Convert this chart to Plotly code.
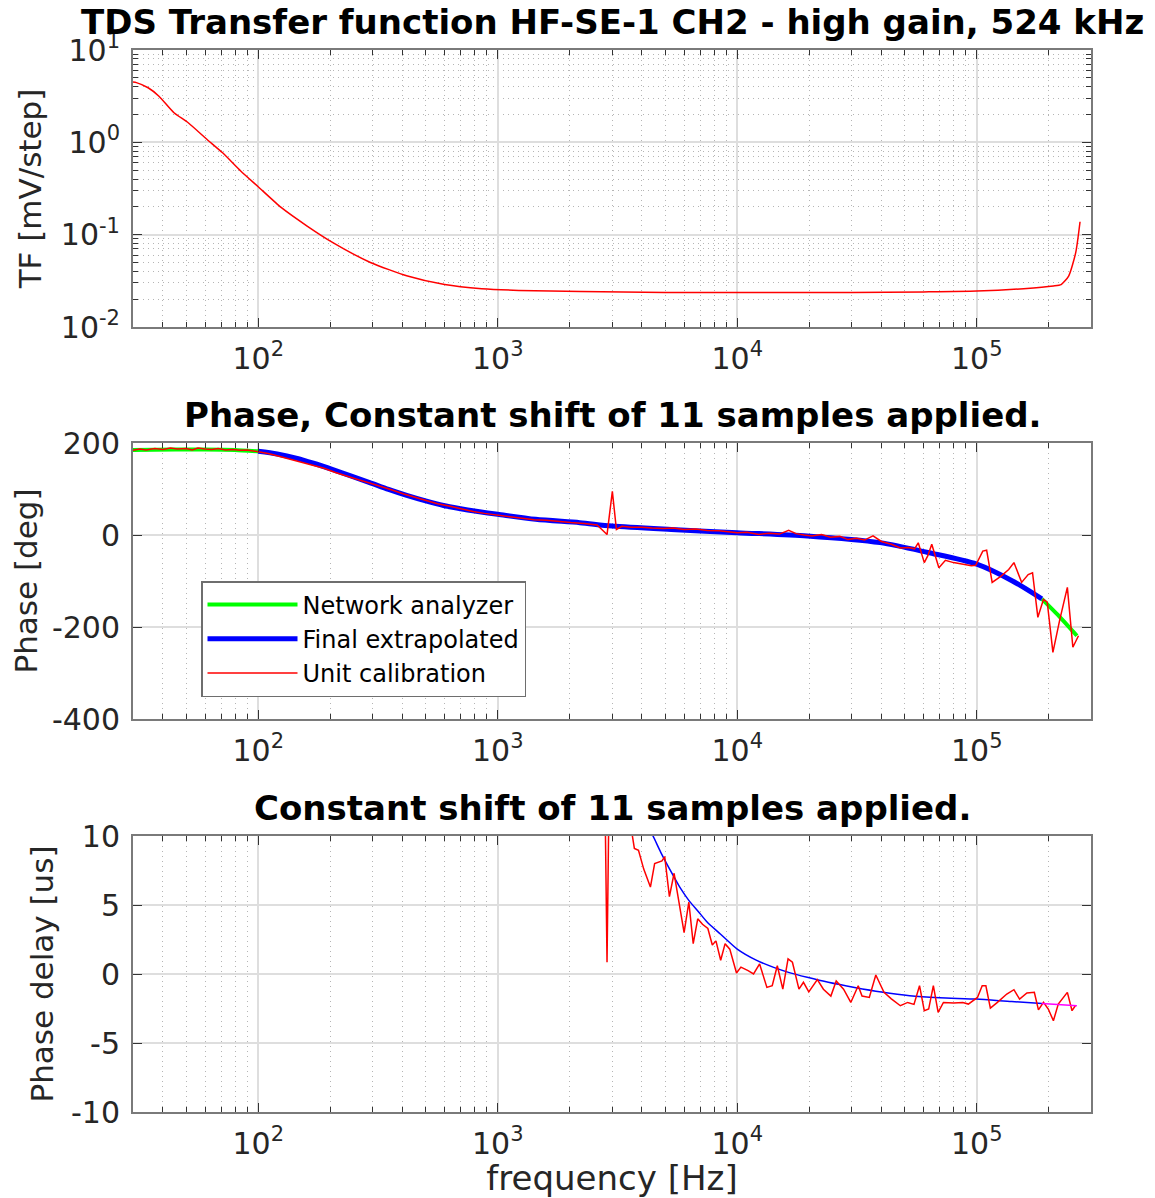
import math

import plotly.graph_objects as go
from plotly.subplots import make_subplots

# --- transfer function magnitude (mV/step) ---
TF_FREQ = [30, 31, 34.7, 38.5, 44.5, 51, 61, 71, 84.5, 100, 125, 160, 205, 294, 420,
           600, 857, 1225, 2220, 5000, 10000, 30000, 60000, 100000, 157000, 209000,
           225000, 242000, 259000, 270000]
TF_MAG = [4.5, 4.43, 3.9, 3.16, 2.09, 1.63, 1.08, 0.77, 0.49, 0.33, 0.196, 0.124, 0.082,
          0.050, 0.0356, 0.0288, 0.026, 0.0249, 0.0242, 0.0236, 0.0236, 0.0236, 0.024,
          0.0245, 0.026, 0.0278, 0.0288, 0.0356, 0.0638, 0.138]

# --- phase (deg) ---
NA_FREQ = [30, 45, 60, 80, 100, None, 187000, 223000, 262000]
NA_PHASE = [185, 186, 186, 185, 182, None, -139, -179, -219]

FINAL_FREQ = [100, 120, 144, 170, 205, 245, 292, 350, 417, 500, 594, 700, 800, 1000,
              1440, 2200, 3000, 5300, 10000, 19600, 39500, 62500, 100000, 141000, 187000]
FINAL_PHASE = [182, 176, 167, 156, 142, 128, 114, 99, 86, 74, 64, 57, 52, 45, 34, 26.7,
               19.5, 12, 5, -2, -16.6, -38, -63.5, -100, -139]

UC_FREQ = [30, 32, 34, 37, 40, 43, 46, 50, 53, 56, 60, 64, 68, 73, 78, 84, 90, 95, 100,
           110, 122, 135, 150, 168, 188, 210, 235, 262, 292, 325, 362, 405, 450, 500,
           560, 625, 700, 790, 880, 1000, 1120, 1260, 1420, 1600, 1800, 2020, 2300, 2600,
           2860, 3010, 3130, 3300, 3600, 4000, 4400, 4900, 5400, 6000, 6700, 7500, 8400,
           9300, 10000, 11000, 12300, 13600, 15000, 16400, 17600, 19000, 20500, 22500,
           24500, 26800, 29000, 31500, 34000, 36900, 40000, 44000, 48000, 52000, 55000,
           57000, 60400, 62500, 64900, 69500, 74000, 80000, 88000, 95000, 99000, 106000,
           110000, 116000, 126000, 136000, 143000, 154000, 164000, 171000, 180000,
           190000, 197000, 208000, 222000, 239000, 252000, 266000]
UC_PHASE = [184, 187, 185, 188, 186, 189, 187, 188, 185, 189, 187, 186, 188, 185, 186,
            184, 185, 183, 181, 177, 171, 165, 159, 152, 145, 136, 127, 120, 113, 106, 98,
            89, 82, 75, 68, 63, 57, 51, 47, 43, 40, 37, 33, 32, 29, 27, 25, 22, 1, 95, 12,
            19, 17, 17, 15, 14, 15, 12, 13, 10, 9, 7, 5, 6, 1, 4, 2, 10, 3, 0, -2, 1, -5,
            -3, -10, -7, -11, -2, -14, -20, -28, -27, -30, -17, -60, -45, -20, -71, -55,
            -60, -63, -67, -66, -35, -33, -103, -90, -75, -60, -103, -86, -82, -179, -140,
            -146, -255, -185, -114, -244, -219]

# --- phase delay (us) ---
DL_FREQ = [3000, 3500, 4000, 4450, 4800, 5300, 5800, 6300, 6900, 7500, 8500, 10000,
           12000, 14200, 16500, 19600, 24000, 30900, 40000, 52500, 70000, 100000,
           140000, 187000]
DL_FINAL = [17, 14, 11.5, 10, 8.8, 7.4, 6.2, 5.3, 4.5, 3.75, 2.9, 1.8, 1.0, 0.48, 0.1,
            -0.24, -0.6, -0.97, -1.3, -1.57, -1.72, -1.82, -2.0, -2.13]

DL_NA_FREQ = [187000, 262000]
DL_NA = [-2.13, -2.3]

DL_UC_FREQ = [1000, 1500, 2000, 2500, 2790, 2860, 2930, 3200, 3500, 3720, 3870, 4070,
              4340, 4520, 4850, 4980, 5210, 5450, 6000, 6280, 6550, 6840, 7160, 7540,
              7870, 8150, 8530, 8900, 9310, 9930, 10360, 11100, 11700, 12400, 13300,
              14000, 14700, 15500, 16300, 17000, 18100, 18900, 19900, 21600, 22900,
              24600, 25900, 27800, 29800, 32000, 33200, 35600, 37900, 41000, 44000,
              48000, 51500, 54700, 57700, 60400, 63000, 65900, 69000, 72600, 80100,
              87500, 92300, 100700, 105400, 109200, 114000, 122000, 133500, 143000,
              151000, 162000, 174000, 181000, 190000, 199000, 209000, 219000, 239000,
              250000, 258000]
DL_UC = [120, 70, 42, 26, 16, 0.85, 16, 14, 12, 9.1, 8.96, 7.6, 6.3, 8.0, 8.2, 8.5, 5.6,
         7.3, 3.0, 5.2, 2.2, 4.0, 3.6, 3.3, 2.1, 2.4, 1.0, 2.2, 1.8, 0.07, 0.5, 0.24, 0.0,
         0.73, -0.97, -0.85, 0.6, -1.1, 1.1, 0.85, -1.1, -0.6, -1.3, -0.4, -1.1, -1.6,
         -0.5, -1.1, -2.06, -0.85, -1.6, -1.7, -0.07, -1.33, -1.8, -2.3, -2.06, -2.2,
         -0.85, -2.66, -2.54, -0.85, -2.78, -2.06, -2.1, -2.06, -2.18, -1.7, -0.85, -0.85,
         -2.47, -2.06, -1.45, -1.14, -1.82, -1.38, -1.33, -2.6, -2.06, -2.54, -3.39,
         -2.18, -1.33, -2.66, -2.3]

X_TICKS = [1e2, 1e3, 1e4, 1e5]
X_TICKTEXT = ["10<sup>2</sup>", "10<sup>3</sup>", "10<sup>4</sup>", "10<sup>5</sup>"]
X_MINOR = [m * 10 ** e for e in range(1, 6) for m in range(2, 10) if 30 <= m * 10 ** e <= 3e5]

TF_TICKS = [0.01, 0.1, 1, 10]
TF_TICKTEXT = ["10<sup>-2</sup>", "10<sup>-1</sup>", "10<sup>0</sup>", "10<sup>1</sup>"]
TF_MINOR = [m * 10.0 ** e for e in range(-2, 1) for m in range(2, 10)]

PH_TICKS = [-400, -200, 0, 200]
PH_TICKTEXT = ["-400", "-200", "0", "200"]
DL_TICKS = [-10, -5, 0, 5, 10]
DL_TICKTEXT = ["-10", "-5", "0", "5", "10"]

FONT = "DejaVu Sans"
TXT = "#262626"
PAGE_OFF = 8                      # default body margin of the html page
W, H = 1155 - PAGE_OFF, 1198 - PAGE_OFF
PLOT_L, PLOT_R, PLOT_T, PLOT_B = 133, 1091, 50, 1112   # plot area on the final page
ML, MT = PLOT_L - PAGE_OFF, PLOT_T - PAGE_OFF
MR, MB = W + PAGE_OFF - PLOT_R, H + PAGE_OFF - PLOT_B

fig = make_subplots(rows=3, cols=1)

fig.add_trace(go.Scatter(x=TF_FREQ, y=TF_MAG, mode="lines", showlegend=False,
                         line=dict(color="#ff0000", width=1.5, shape="spline", smoothing=0.6)),
              row=1, col=1)

fig.add_trace(go.Scatter(x=NA_FREQ, y=NA_PHASE, mode="lines", name="Network analyzer",
                         line=dict(color="#00ff00", width=4, shape="spline", smoothing=0.5)),
              row=2, col=1)
fig.add_trace(go.Scatter(x=FINAL_FREQ, y=FINAL_PHASE, mode="lines", name="Final extrapolated",
                         line=dict(color="#0000ff", width=5, shape="spline", smoothing=0.8)),
              row=2, col=1)
fig.add_trace(go.Scatter(x=UC_FREQ, y=UC_PHASE, mode="lines", name="Unit calibration",
                         line=dict(color="#ff0000", width=1.5)),
              row=2, col=1)

fig.add_trace(go.Scatter(x=DL_FREQ, y=DL_FINAL, mode="lines", showlegend=False,
                         line=dict(color="#0000ff", width=1.5, shape="spline", smoothing=0.6)),
              row=3, col=1)
fig.add_trace(go.Scatter(x=DL_UC_FREQ, y=DL_UC, mode="lines", showlegend=False,
                         line=dict(color="#ff0000", width=1.5)),
              row=3, col=1)
fig.add_trace(go.Scatter(x=DL_NA_FREQ, y=DL_NA, mode="lines", showlegend=False,
                         line=dict(color="#ff00ff", width=1.5)),
              row=3, col=1)

plot_h = PLOT_B - PLOT_T
def dom(top_px, bot_px):
    return [1 - (bot_px - PLOT_T) / plot_h, 1 - (top_px - PLOT_T) / plot_h]

DOMAINS = [dom(50, 327), dom(443, 719), dom(836, 1112)]

axis_common = dict(
    ticks="inside", ticklen=9, tickwidth=1.2, tickcolor="#333333",
    showline=True, linecolor="#7a7a7a", linewidth=2, mirror="allticks",
    showgrid=True, gridcolor="#dedede", gridwidth=1.5, zeroline=False,
    tickfont=dict(family=FONT, size=30, color=TXT), automargin=False,
)
minor_common = dict(ticks="inside", ticklen=5, tickcolor="#333333",
                    showgrid=True, gridcolor="#b5b5b5", griddash="1px,4px", gridwidth=1)

for i in range(3):
    fig.update_xaxes(
        type="log", range=[math.log10(30), math.log10(3e5)],
        tickvals=X_TICKS, ticktext=X_TICKTEXT, ticklabelstandoff=4,
        minor=dict(tickvals=X_MINOR, **minor_common), **axis_common,
        row=i + 1, col=1)
    fig.update_yaxes(domain=DOMAINS[i], ticklabelstandoff=5, row=i + 1, col=1, **axis_common)

fig.update_layout(xaxis=dict(domain=[0, 1]), xaxis2=dict(domain=[0, 1]), xaxis3=dict(domain=[0, 1]))

fig.update_yaxes(type="log", range=[-2, 1], tickvals=TF_TICKS, ticktext=TF_TICKTEXT,
                 minor=dict(tickvals=TF_MINOR, **minor_common),
                 title=dict(text="TF [mV/step]", font=dict(family=FONT, size=31, color=TXT), standoff=10),
                 row=1, col=1)
fig.update_yaxes(range=[-400, 200], tickvals=PH_TICKS, ticktext=PH_TICKTEXT,
                 title=dict(text="Phase [deg]", font=dict(family=FONT, size=31, color=TXT), standoff=6),
                 row=2, col=1)
fig.update_yaxes(range=[-10, 10], tickvals=DL_TICKS, ticktext=DL_TICKTEXT,
                 title=dict(text="Phase delay [us]", font=dict(family=FONT, size=31, color=TXT), standoff=8),
                 row=3, col=1)
fig.update_xaxes(title=dict(text="frequency [Hz]", font=dict(family=FONT, size=34, color=TXT), standoff=0),
                 row=3, col=1)

TITLES = ["TDS Transfer function HF-SE-1 CH2 - high gain, 524 kHz",
          "Phase, Constant shift of 11 samples applied.",
          "Constant shift of 11 samples applied."]
for title, d in zip(TITLES, DOMAINS):
    fig.add_annotation(text=title, xref="paper", yref="paper", x=0.5, y=d[1],
                       xanchor="center", yanchor="middle", yshift=28, showarrow=False,
                       font=dict(family=FONT, size=34, color="#000000", weight="bold"))

fig.update_layout(
    width=W, height=H,
    margin=dict(l=ML, r=MR, t=MT, b=MB),
    paper_bgcolor="white", plot_bgcolor="white",
    font=dict(family=FONT, color=TXT),
    legend=dict(x=(201 - PLOT_L) / (PLOT_R - PLOT_L), y=1 - (581 - PLOT_T) / plot_h,
                xanchor="left", yanchor="top", yref="paper",
                bgcolor="white", bordercolor="#6e6e6e", borderwidth=1.5,
                itemwidth=90,
                font=dict(family=FONT, size=24, color="#000000")),
)

fig.write_html("out.html")
